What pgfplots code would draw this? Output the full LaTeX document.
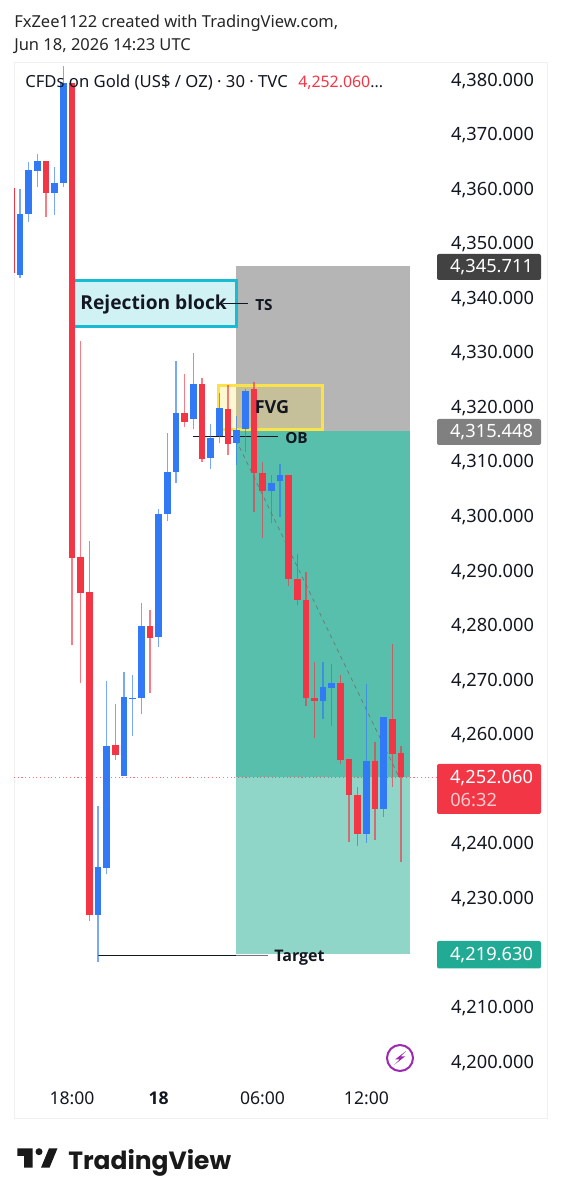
\documentclass[border=0pt]{standalone}
\usepackage{fontspec}
\setmainfont{Noto Sans}
\newfontfamily\bfont{Open Sans}
\newfontfamily\logofont{Poppins}
\usepackage{pgfplots}
\usepackage{pgfplotstable}
\pgfplotsset{compat=1.18}

\definecolor{upc}{HTML}{3179F5}
\definecolor{downc}{HTML}{F23645}
\definecolor{stopz}{HTML}{B5B5B5}
\definecolor{targetz}{HTML}{57BFAB}
\definecolor{targetl}{HTML}{90D6C8}
\definecolor{tagg}{HTML}{22AB94}
\definecolor{cyanb}{HTML}{17BBD3}
\definecolor{cyanf}{HTML}{D1F2F5}
\definecolor{yel}{HTML}{FBE24A}
\definecolor{ink}{HTML}{131722}
\definecolor{purp}{HTML}{9C27B0}

% i, wick high, body top, body bottom, wick low
\pgfplotstableread{
i wh bt bb wl
1 4359.84 4355.26 4344.08 4343.53
2 4364.84 4363.32 4355.20 4353.85
3 4366.25 4365.03 4363.19 4360.15
5 4363.82 4360.94 4359.16 4355.02
6 4382.38 4379.21 4360.94 4360.26
10 4246.81 4235.63 4226.83 4218.22
11 4269.67 4257.75 4235.34 4234.24
13 4271.26 4266.79 4252.25 4252.25
14 4270.76 4266.64 4266.42 4259.64
15 4283.91 4279.75 4266.61 4263.56
17 4301.13 4300.22 4277.73 4275.95
18 4315.17 4307.97 4300.27 4298.99
19 4328.37 4318.73 4307.97 4306.01
21 4329.84 4324.10 4317.68 4315.80
23 4316.71 4314.26 4310.59 4308.52
24 4322.51 4319.76 4314.57 4313.23
26 4318.23 4315.67 4313.34 4309.25
27 4323.13 4322.82 4315.80 4311.69
30 4307.42 4306.01 4304.54 4298.57
31 4309.44 4307.42 4306.32 4299.78
36 4273.20 4268.51 4266.06 4262.65
37 4272.73 4269.24 4268.38 4261.42
41 4269.12 4255.06 4241.68 4240.03
43 4263.12 4263.12 4246.15 4244.68
}\upbars
\pgfplotstableread{
i wh bt bb wl
0 4359.97 4359.97 4344.39 4344.39
4 4365.03 4365.03 4359.16 4354.76
7 4379.21 4379.21 4292.26 4276.21
8 4332.04 4292.34 4285.74 4269.24
9 4295.32 4285.92 4226.83 4225.73
12 4265.39 4257.99 4256.16 4255.19
16 4282.68 4279.80 4277.60 4267.47
20 4325.93 4318.84 4317.19 4316.27
22 4325.25 4324.04 4310.30 4309.75
25 4323.86 4319.57 4313.05 4311.09
28 4324.52 4323.13 4307.79 4300.69
29 4309.86 4307.84 4304.49 4295.82
32 4307.48 4307.48 4288.36 4287.08
33 4292.89 4288.36 4284.46 4283.54
34 4289.70 4284.57 4266.49 4265.08
35 4273.09 4266.49 4266.06 4259.16
38 4270.76 4269.30 4255.24 4254.40
39 4255.42 4255.42 4248.83 4240.21
40 4250.18 4248.83 4241.68 4239.42
42 4258.54 4255.06 4246.21 4240.52
44 4276.45 4262.70 4256.23 4250.18
45 4257.75 4256.41 4252.06 4236.44
}\downbars

% wicks, then bodies
\newcommand{\wicks}[2]{\addplot[draw=none, forget plot, error bars/.cd, y dir=plus, y explicit, error mark=none,
  error bar style={line width=1pt, #2, opacity=.65}] table[x=i, y=wl, y error plus expr=\thisrow{wh}-\thisrow{wl}] {#1};}
\newcommand{\bodies}[2]{\addplot[draw=none, forget plot, error bars/.cd, y dir=plus, y explicit, error mark=none,
  error bar style={line width=5pt, #2}] table[x=i, y=bb, y error plus expr=\thisrow{bt}-\thisrow{bb}] {#1};}

\begin{document}
\begin{tikzpicture}
\useasboundingbox (0,0) rectangle (420.75pt,900pt);
\begin{axis}[
  at={(10.5pt,61.5pt)}, anchor=south west,
  scale only axis, width=399.75pt, height=792pt,
  xmin=0.30, xmax=61.85, ymin=4189.57, ymax=4383.12,
  axis line style={draw=black!6},
  major tick length=0pt, tick style={draw=none},
  ytick={4200,4210,4230,4240,4260,4270,4280,4290,4300,4310,4320,4330,4340,4350,4360,4370,4380},
  yticklabel pos=right,
  scaled y ticks=false,
  yticklabel style={font=\fontsize{13.7pt}{16pt}\selectfont, color=ink, anchor=east, xshift=-6.2pt, yshift=-1.2pt,
    /pgf/number format/.cd, fixed, fixed zerofill, precision=3, 1000 sep={,}, assume math mode=true},
  xtick={7,17,29,41},
  xticklabels={18:00,{\bfont\bfseries 18},06:00,12:00},
  xticklabel style={font=\fontsize{13.2pt}{15pt}\selectfont, color=ink, anchor=center, yshift=15pt},
]
% position zones
\addplot[fill=stopz, draw=none] coordinates {(25.94,4315.448) (46.03,4315.448) (46.03,4345.711) (25.94,4345.711)} --cycle;
\addplot[fill=targetz, draw=none] coordinates {(25.94,4252.06) (46.03,4252.06) (46.03,4315.448) (25.94,4315.448)} --cycle;
\addplot[fill=targetl, draw=none] coordinates {(25.94,4219.63) (46.03,4219.63) (46.03,4252.06) (25.94,4252.06)} --cycle;
% drawings
\addplot[fill=cyanf, draw=cyanb, line width=2.25pt] coordinates {(6.98,4334.73) (26.05,4334.73) (26.05,4343.03) (6.98,4343.03)} --cycle;
\addplot[fill=yel, fill opacity=.25, draw=yel, line width=2.25pt] coordinates {(23.94,4315.8) (35.98,4315.8) (35.98,4323.86) (23.94,4323.86)} --cycle;
\addplot[ink, line width=.8pt] coordinates {(20.97,4314.4) (30.79,4314.4)};
\addplot[ink, line width=.8pt] coordinates {(24.43,4338.85) (27.32,4338.85)};
\addplot[ink, line width=.7pt] coordinates {(10,4219.45) (25.94,4219.45)};
\addplot[black!55, line width=.7pt] coordinates {(25.94,4219.45) (29.63,4219.45)};
\addplot[black!55, line width=.5pt, dashed] coordinates {(25.94,4313.84) (44.64,4252.44)};
\addplot[downc, line width=.8pt, dotted, opacity=.7] coordinates {(0.30,4252.06) (49.14,4252.06)};
% candles
\wicks{\upbars}{upc}
\wicks{\downbars}{downc}
\bodies{\upbars}{upc}
\bodies{\downbars}{downc}
\end{axis}

\begin{scope}[shift={(0,900pt)}, x=0.75pt, y=-0.75pt]
\node[anchor=west, inner sep=0, font=\fontsize{12.37pt}{15pt}\selectfont, text=black!85] at (14,23) {FxZee1122 created with TradingView.com,};
\node[anchor=west, inner sep=0, font=\fontsize{12.37pt}{15pt}\selectfont, text=black!85] at (14,46) {Jun 18, 2026 14:23 UTC};
\node[anchor=west, inner sep=0, font=\fontsize{12.5pt}{14pt}\selectfont, text=ink] at (25,82.5) {CFDs on Gold (US\$ / OZ) · 30 · TVC};
\node[anchor=west, inner sep=0, font=\fontsize{11.9pt}{14pt}\selectfont, text=downc] at (298,82.5) {4,252.060\textcolor{ink}{...}};
% annotations
\node[inner sep=0, font=\fontsize{14.4pt}{16pt}\selectfont\bfont\bfseries, text=ink] at (153.7,304.5) {Rejection block};
\node[inner sep=0, font=\fontsize{11.5pt}{14pt}\selectfont\bfont\bfseries, text=ink] at (264,305) {TS};
\node[inner sep=0, font=\fontsize{13.5pt}{16pt}\selectfont\bfont\bfseries, text=ink] at (272,407) {FVG};
\node[inner sep=0, font=\fontsize{11.5pt}{14pt}\selectfont\bfont\bfseries, text=ink] at (296.5,438) {OB};
\node[inner sep=0, font=\fontsize{12pt}{14pt}\selectfont\bfont\bfseries, text=ink] at (299.5,958) {Target};
% price tags
\fill[black!74, rounded corners=1.5] (437,254) rectangle (541,280);
\node[inner sep=0, text=white, font=\fontsize{13.7pt}{16pt}\selectfont] at (491.5,267) {4,345.711};
\fill[black!50, rounded corners=1.5] (437,419) rectangle (541,445);
\node[inner sep=0, text=white, font=\fontsize{13.7pt}{16pt}\selectfont] at (491.5,432) {4,315.448};
\fill[downc, rounded corners=1.5] (437,764) rectangle (541,814);
\node[inner sep=0, text=white, font=\fontsize{13.7pt}{16pt}\selectfont] at (491.5,778) {4,252.060};
\node[anchor=west, inner sep=0, text=white, opacity=.75, font=\fontsize{13.7pt}{16pt}\selectfont] at (450,800) {06:32};
\fill[tagg, rounded corners=1.5] (437,941) rectangle (541,968.5);
\node[inner sep=0, text=white, font=\fontsize{13.7pt}{16pt}\selectfont] at (491.5,955) {4,219.630};
% bolt icon
\draw[purp, line width=1.5pt] (400,1058) circle[radius=13];
\fill[purp] (406,1051) -- (395,1059.5) -- (399.5,1059.5) -- (394,1065) -- (405,1056.5) -- (400.5,1056.5) -- cycle;
% logo
\fill[black!90] (17.3,1148.3) -- (32.7,1148.3) -- (32.7,1167.7) -- (24,1167.7) -- (24,1156) -- (17.3,1156) -- cycle;
\fill[black!90] (39,1151.7) circle[radius=3.5];
\fill[black!90] (49,1148.3) -- (57.5,1148.3) -- (49.5,1167.7) -- (41,1167.7) -- cycle;
\node[anchor=west, inner sep=0, font=\fontsize{18.7pt}{24pt}\selectfont\logofont\bfseries, text=black!90] at (68,1163) {TradingView};
\end{scope}
\end{tikzpicture}
\end{document}
